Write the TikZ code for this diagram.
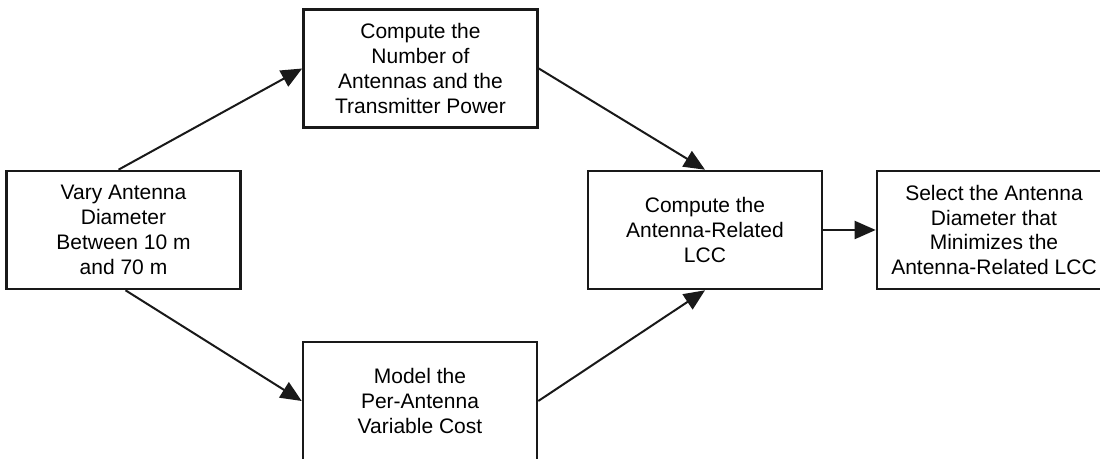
\documentclass[tikz,border=0pt]{standalone}
\usepackage{fontspec}
\setmainfont{Liberation Sans}
\usetikzlibrary{arrows.meta}
\begin{document}
\begin{tikzpicture}[x=0.5pt,y=-0.5pt,
  box/.style={draw=black!90, line width=1.3pt, rectangle, align=center,
    minimum width=117pt, minimum height=59pt, inner sep=0pt,
    font=\fontsize{10.5}{12.4}\selectfont},
  conn/.style={line width=1pt, draw=black!90, -{Triangle[length=10.5pt,width=9pt]}}]
\useasboundingbox (0,0) rectangle (1100,459);
\clip (0,0) rectangle (1100,459);
\fill[white] (0,0) rectangle (1100,459);
\node[box] (L) at (123.5,230) {Vary Antenna\\Diameter\\Between 10 m\\and 70 m};
\node[box] (T) at (420.5,68.5) {Compute the\\Number of\\Antennas and the\\Transmitter Power};
\node[box] (B) at (420,401) {Model the\\Per-Antenna\\Variable Cost};
\node[box] (M) at (705,230) {Compute the\\Antenna-Related\\LCC};
\node[box] (R) at (994,230) {Select the Antenna\\Diameter that\\Minimizes the\\Antenna-Related LCC};
\draw[conn] ([xshift=-2.5pt]L.north) -- (T.west);
\draw[conn] ([xshift=1pt]L.south) -- (B.west);
\draw[conn] (T.east) -- (M.north);
\draw[conn] (B.east) -- (M.south);
\draw[conn] (M.east) -- (R.west);
\end{tikzpicture}
\end{document}
